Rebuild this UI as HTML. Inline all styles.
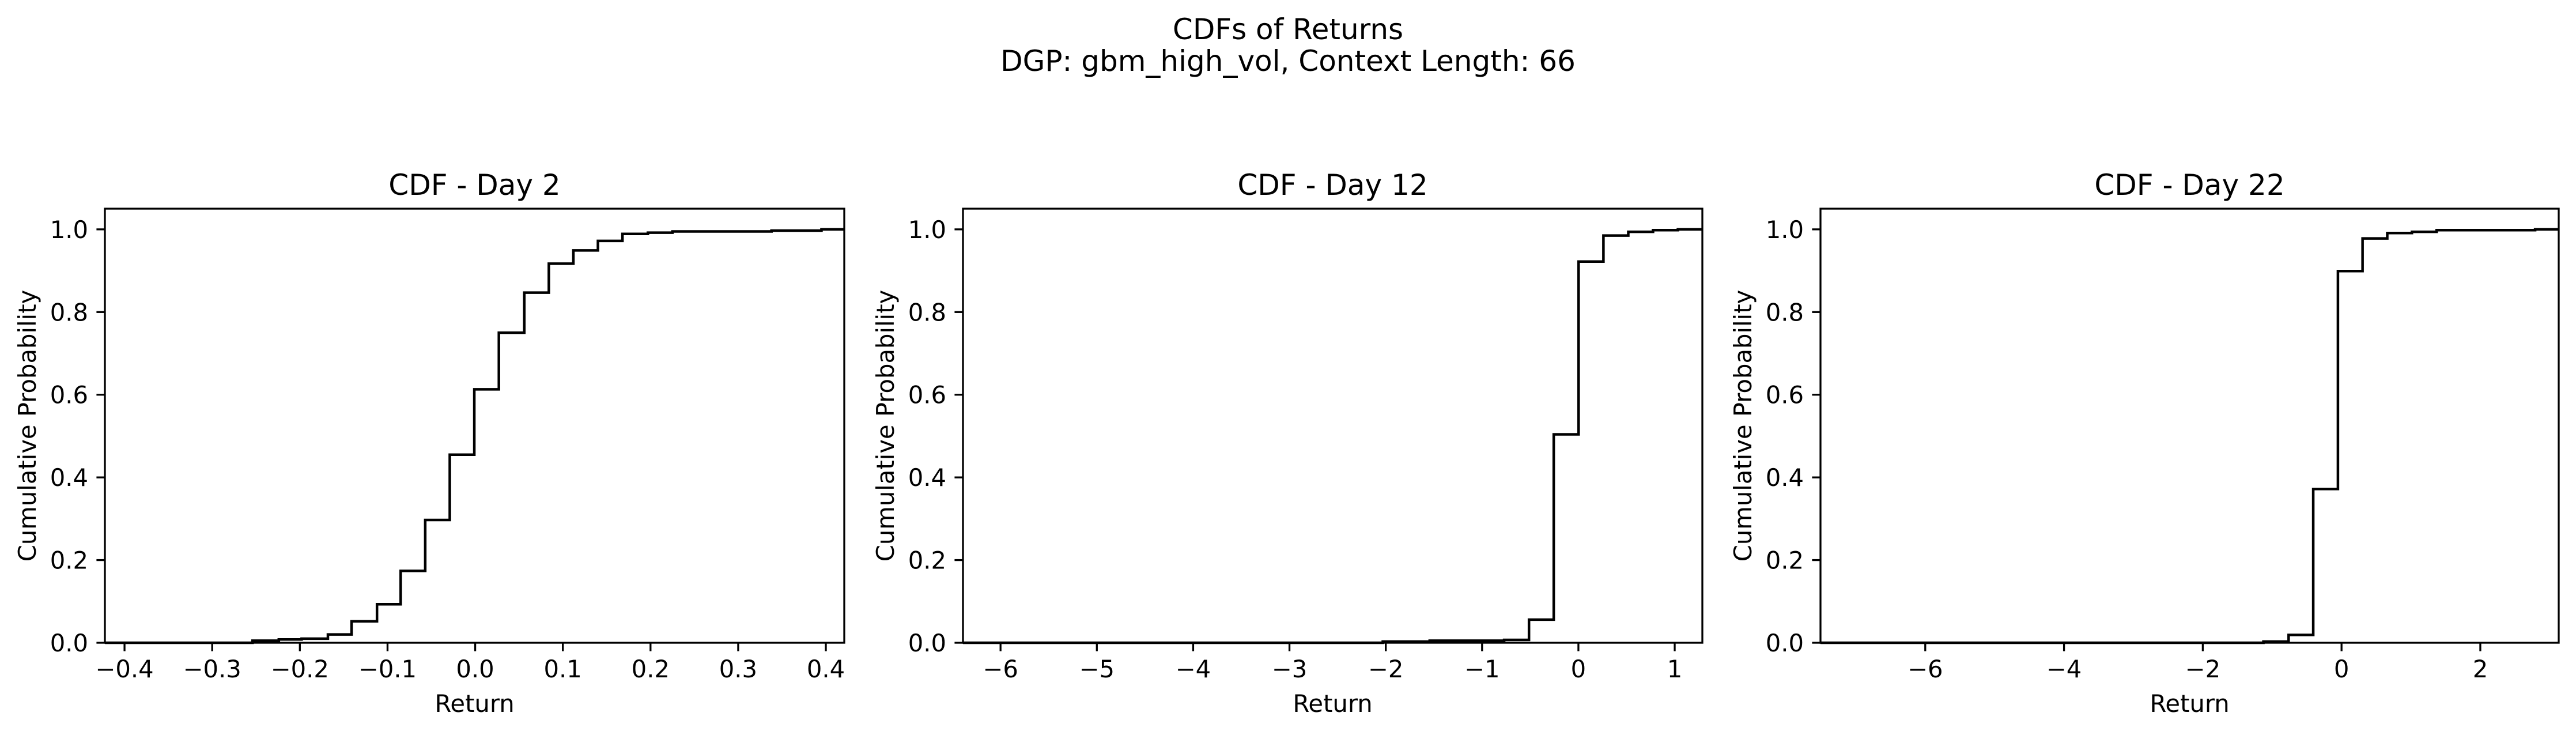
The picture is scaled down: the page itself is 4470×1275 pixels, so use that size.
<!DOCTYPE html>
<html><head><meta charset="utf-8">
<style>
html,body{margin:0;padding:0;background:#fff;}
svg{display:block;font-family:"DejaVu Sans","Liberation Sans",sans-serif;}
</style></head>
<body>
<svg id="fig" width="4470" height="1275" viewBox="0 0 4470 1275" xmlns="http://www.w3.org/2000/svg">
<rect width="4470" height="1275" fill="#fff"/>
<text x="2235" y="68" font-size="50" text-anchor="middle">CDFs of Returns</text>
<text x="2235" y="123" font-size="50" text-anchor="middle">DGP: gbm_high_vol, Context Length: 66</text>
</svg>
<script>
// Panel titles
const titles = ["CDF - Day 2", "CDF - Day 12", "CDF - Day 22"];
// Step x positions (bin edges where CDF rises) per panel
const day2X = [-0.254,-0.224,-0.198,-0.168,-0.141,-0.112,-0.085,-0.057,-0.029,-0.001,0.027,0.056,0.084,0.112,0.140,0.168,0.197,0.225,0.338,0.395];
const day2Y = [0.005,0.008,0.010,0.020,0.052,0.093,0.174,0.297,0.455,0.613,0.750,0.847,0.917,0.949,0.972,0.989,0.992,0.995,0.997,1.0];
const day12X = [-2.031,-1.544,-0.771,-0.513,-0.256,0.002,0.260,0.518,0.775,1.033];
const day12Y = [0.003,0.005,0.007,0.056,0.504,0.922,0.985,0.994,0.998,1.0];
const day22X = [-1.126,-0.763,-0.408,-0.052,0.303,0.659,1.014,1.370,2.790];
const day22Y = [0.003,0.019,0.372,0.899,0.978,0.991,0.994,0.998,1.0];
// X ticks per panel
const ticks1 = [-0.4,-0.3,-0.2,-0.1,0.0,0.1,0.2,0.3,0.4];
const tickLabels1 = ["−0.4","−0.3","−0.2","−0.1","0.0","0.1","0.2","0.3","0.4"];
const ticks2 = [-6,-5,-4,-3,-2,-1,0,1];
const tickLabels2 = ["−6","−5","−4","−3","−2","−1","0","1"];
const ticks3 = [-6,-4,-2,0,2];
const tickLabels3 = ["−6","−4","−2","0","2"];
const yTicks = [0,0.2,0.4,0.6,0.8,1.0];
const yTickLabels = ["0.0","0.2","0.4","0.6","0.8","1.0"];
const xDomains = [[-0.4224,0.421],[-6.39,1.287],[-7.51,3.13]];

const panels = [
  {x:day2X,y:day2Y,ticks:ticks1,labels:tickLabels1,left:182,right:1465},
  {x:day12X,y:day12Y,ticks:ticks2,labels:tickLabels2,left:1671,right:2954},
  {x:day22X,y:day22Y,ticks:ticks3,labels:tickLabels3,left:3159,right:4440}
];
const TOP=362, BOT=1115, YMAX=1.05;
const NS="http://www.w3.org/2000/svg";
const svg=document.getElementById('fig');
function mk(tag,attrs,parent){const e=document.createElementNS(NS,tag);for(const k in attrs)e.setAttribute(k,attrs[k]);(parent||svg).appendChild(e);return e;}

panels.forEach((p,i)=>{
  const dom=xDomains[i];
  const sx=v=>p.left+(v-dom[0])/(dom[1]-dom[0])*(p.right-p.left);
  const sy=v=>BOT-(v/YMAX)*(BOT-TOP);
  const g=mk('g',{});
  
  
  let d='M'+p.left+','+sy(0);
  let prev=0;
  for(let k=0;k<p.x.length;k++){
    const X=sx(p.x[k]);
    d+=' L'+X+','+sy(prev)+' L'+X+','+sy(p.y[k]);
    prev=p.y[k];
  }
  d+=' L'+p.right+','+sy(prev);
  const line=mk('path',{d:d,fill:'none',stroke:'#000','stroke-width':4.5},g);
  
  
  const fr=mk('rect',{x:p.left,y:TOP,width:p.right-p.left,height:BOT-TOP,fill:'none',stroke:'#000','stroke-width':3.3},g);
  
  
  p.ticks.forEach((t,k)=>{
    const X=sx(t);
    mk('line',{x1:X,x2:X,y1:BOT,y2:BOT+14.6,stroke:'#000','stroke-width':3.3},g);
    const tx=mk('text',{x:X,y:BOT+60,'font-size':41.7,'text-anchor':'middle'},g);
    tx.textContent=p.labels[k];
    
    
  });
  yTicks.forEach((t,k)=>{
    const Y=sy(t);
    mk('line',{x1:p.left-14.6,x2:p.left,y1:Y,y2:Y,stroke:'#000','stroke-width':3.3},g);
    const ty=mk('text',{x:p.left-29,y:Y+15,'font-size':41.7,'text-anchor':'end'},g);
    ty.textContent=yTickLabels[k];
    
    
  });
  const cx=(p.left+p.right)/2;
  const tt=mk('text',{x:cx,y:338,'font-size':50,'text-anchor':'middle'},g);
  tt.textContent=titles[i];
  
  
  const xl=mk('text',{x:cx,y:1235,'font-size':41.7,'text-anchor':'middle'},g);
  xl.textContent='Return';
  
  
  const yx=p.left-120, yc=(TOP+BOT)/2;
  const yl=mk('text',{x:yx,y:yc,'font-size':41.7,'text-anchor':'middle',transform:'rotate(-90 '+yx+' '+yc+')'},g);
  yl.textContent='Cumulative Probability';
  
  
});
</script>
</body></html>
